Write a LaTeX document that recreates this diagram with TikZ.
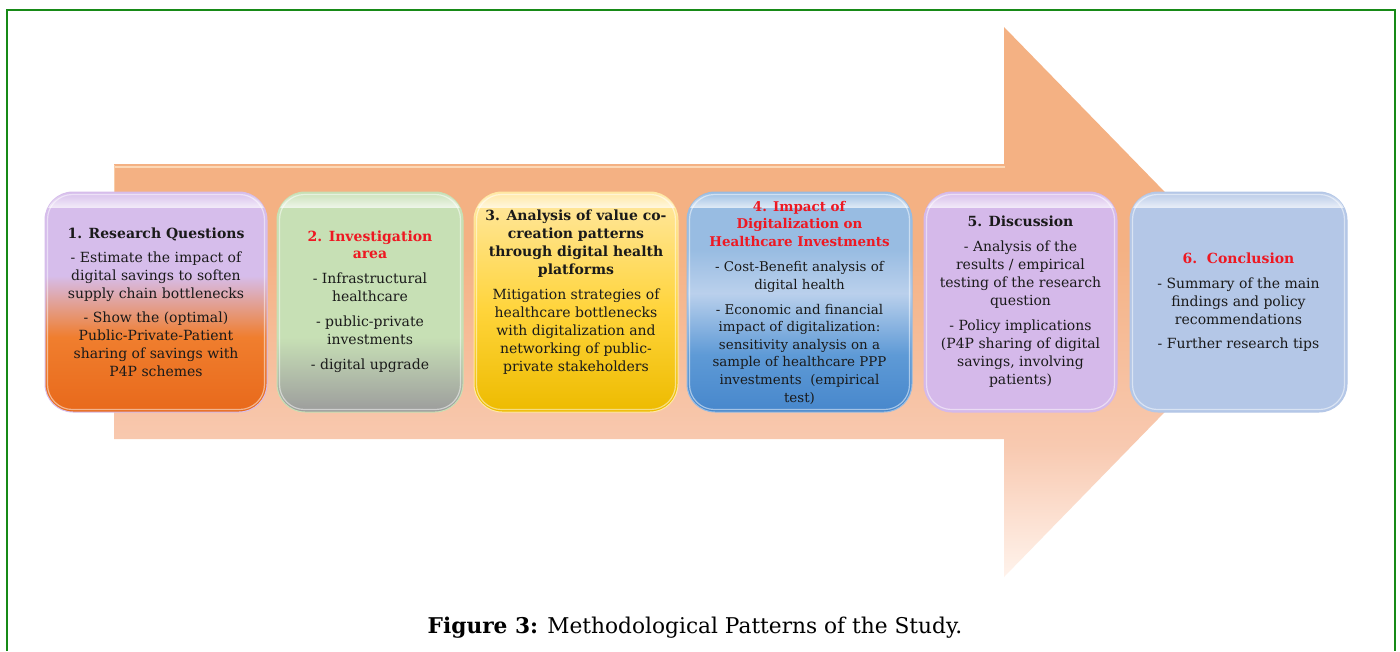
\documentclass[tikz,border=0pt]{standalone}
\usepackage{fontspec}
\setmainfont{DejaVu Serif}
\usetikzlibrary{fadings}

\definecolor{frame}{HTML}{178A17}
\definecolor{arA}{HTML}{F4B183}
\definecolor{arB}{HTML}{F8C9B0}
\definecolor{arC}{HTML}{FFF3EC}
\definecolor{arHi}{HTML}{FCD8B6}
\definecolor{redtxt}{HTML}{EE1822}
\definecolor{darktxt}{HTML}{1A1A1A}

\definecolor{c1a}{HTML}{D6BDEB}
\definecolor{c1c}{HTML}{F07E2E}
\definecolor{c1d}{HTML}{E8691B}
\definecolor{c2a}{HTML}{C7E0B5}
\definecolor{c2m}{HTML}{B3C0AA}
\definecolor{c2b}{HTML}{9C9C9C}
\definecolor{c3a}{HTML}{FFE8A3}
\definecolor{c3m}{HTML}{FFD43A}
\definecolor{c3b}{HTML}{EDBB00}
\definecolor{c4a}{HTML}{98BCE2}
\definecolor{c4m}{HTML}{BAD0EC}
\definecolor{c4n}{HTML}{5E9AD6}
\definecolor{c4b}{HTML}{4787CC}
\definecolor{c5}{HTML}{D5B9EA}
\definecolor{c6}{HTML}{B4C7E7}

\pgfdeclareverticalshading{shArrow}{100bp}{color(0bp)=(arC); color(25bp)=(arC); color(37bp)=(arB); color(55bp)=(arA); color(100bp)=(arA)}
\pgfdeclareverticalshading{shOne}{100bp}{color(0bp)=(c1d); color(25bp)=(c1d); color(42bp)=(c1c); color(56bp)=(c1a); color(100bp)=(c1a)}
\pgfdeclareverticalshading{shTwo}{100bp}{color(0bp)=(c2b); color(25bp)=(c2b); color(34bp)=(c2m); color(42bp)=(c2a); color(100bp)=(c2a)}
\pgfdeclareverticalshading{shThree}{100bp}{color(0bp)=(c3b); color(25bp)=(c3b); color(48bp)=(c3m); color(75bp)=(c3a); color(100bp)=(c3a)}
\pgfdeclareverticalshading{shFour}{100bp}{color(0bp)=(c4b); color(25bp)=(c4b); color(38bp)=(c4n); color(52bp)=(c4m); color(62bp)=(c4a); color(100bp)=(c4a)}
\pgfdeclareverticalshading{shFive}{100bp}{color(0bp)=(c5); color(100bp)=(c5)}
\pgfdeclareverticalshading{shSix}{100bp}{color(0bp)=(c6); color(100bp)=(c6)}

\tikzset{
  boxshape/.style={rounded corners=28pt, minimum height=220pt, inner sep=0pt, shade, line width=1pt},
  boxtext/.style={align=center, inner sep=0pt, text=darktxt, font=\fontsize{14}{18}\selectfont},
  smalltext/.style={boxtext, font=\fontsize{13.4}{17.6}\selectfont},
}
\newcommand\hdr[1]{\textbf{#1}}
\newcommand\rhdr[1]{\textcolor{redtxt}{\textbf{#1}}}

% name, center x, width, shading, rim colour
\newcommand\glossbox[5]{%
  \node[boxshape, minimum width=#3pt, shading=#4, draw=#5] (#1) at (#2,302) {};
  \begin{scope}
    \clip[rounded corners=27pt] ([shift={(1pt,-1pt)}]#1.north west) rectangle ([shift={(-1pt,1pt)}]#1.south east);
    \fill[white, path fading=north, opacity=0.7]
      ([shift={(0pt,0pt)}]#1.north west) rectangle ([shift={(0pt,-16pt)}]#1.north east);
  \end{scope}
  \draw[white, opacity=0.5, line width=1.2pt, rounded corners=25pt]
    ([shift={(3pt,-3pt)}]#1.north west) rectangle ([shift={(-3pt,3pt)}]#1.south east);
}

\begin{document}
\begin{tikzpicture}[x=1pt,y=-1pt]
\useasboundingbox (0,0) rectangle (1400,651);
\fill[white] (0,0) rectangle (1400,651);

% frame
\draw[frame, line width=1.6pt] (7,651) -- (7,10) -- (1395,10) -- (1395,651);

% big arrow
\shade[shading=shArrow] (114,164) -- (1004,164) -- (1004,27) -- (1272,302) -- (1004,577) -- (1004,439) -- (114,439) -- cycle;
\draw[arHi, line width=2pt] (115,166.5) -- (1005,166.5);
\draw[arHi, line width=1pt, opacity=0.7] (114.5,165) -- (114.5,300);

% boxes
\glossbox{b1}{156}{222}{shOne}{c1a}
\glossbox{b2}{370}{186}{shTwo}{c2a}
\glossbox{b3}{576}{204}{shThree}{c3a}
\glossbox{b4}{799.5}{225}{shFour}{c4a}
\glossbox{b5}{1020.5}{193}{shFive}{c5}
\glossbox{b6}{1238.5}{217}{shSix}{c6}

% texts
\node[boxtext] (t1) at (156,302) {\hdr{1. Research Questions}\\[6pt]
- Estimate the impact of\\ digital savings to soften\\ supply chain bottlenecks\\[6pt]
- Show the (optimal)\\ Public-Private-Patient\\ sharing of savings with\\ P4P schemes};

\node[boxtext] (t2) at (370,301.5) {\rhdr{2. Investigation}\\[-1pt] \rhdr{area}\\[7pt]
- Infrastructural\\ healthcare\\[7pt]
- public-private\\ investments\\[7pt]
- digital upgrade};

\node[boxtext] (t3) at (576,292) {\hdr{3. Analysis of value co-}\\ \hdr{creation patterns}\\ \hdr{through digital health}\\ \hdr{platforms}\\[7pt]
Mitigation strategies of\\ healthcare bottlenecks\\ with digitalization and\\ networking of public-\\ private stakeholders};

\node[smalltext] (t4) at (799.5,302.5) {\rhdr{4. Impact of}\\ \rhdr{Digitalization on}\\ \rhdr{Healthcare Investments}\\[8pt]
- Cost-Benefit analysis of\\ digital health\\[7pt]
- Economic and financial\\ impact of digitalization:\\ sensitivity analysis on a\\ sample of healthcare PPP\\ investments\ \ (empirical\\ test)};

\node[boxtext] (t5) at (1020.5,302) {\hdr{5. Discussion}\\[7pt]
- Analysis of the\\ results / empirical\\ testing of the research\\ question\\[7pt]
- Policy implications\\ (P4P sharing of digital\\ savings, involving\\ patients)};

\node[boxtext] (t6) at (1238.5,302.5) {\rhdr{6.\ \ Conclusion}\\[7pt]
- Summary of the main\\ findings and policy\\ recommendations\\[6pt]
- Further research tips};

% caption
\node[inner sep=0pt, text=black, font=\fontsize{21.7}{26}\selectfont] (cap) at (695,628) {\textbf{Figure 3:} Methodological Patterns of the Study.};
\end{tikzpicture}
\end{document}
